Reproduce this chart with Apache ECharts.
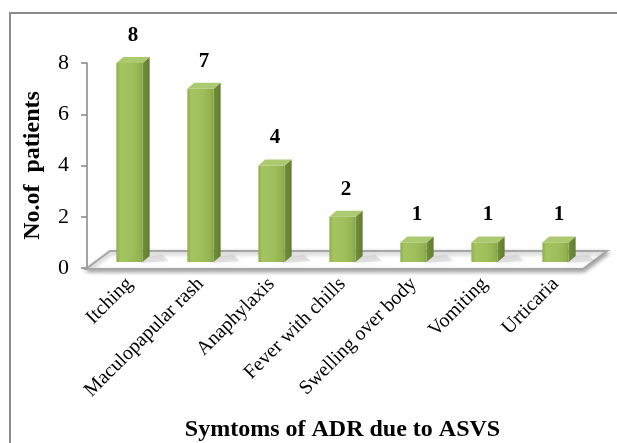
<!DOCTYPE html>
<html>
<head>
<meta charset="utf-8">
<script src="https://cdn.jsdelivr.net/npm/echarts@6/dist/echarts.min.js"></script>
<style>
html,body{margin:0;padding:0;background:#fff;}
#chart{width:617px;height:443px;}
</style>
</head>
<body>
<div id="chart"></div>
<script>
const categories = ['Itching', 'Maculopapular rash', 'Anaphylaxis', 'Fever with chills', 'Swelling over body', 'Vomiting', 'Urticaria'];
const patients = [8, 7, 4, 2, 1, 1, 1];
const yTickStep = 2;
const yMax = 8;
const xTitle = 'Symtoms of ADR due to ASVS';
const yTitle = 'No.of  patients';

const chart = echarts.init(document.getElementById('chart'), null, {renderer: 'canvas'});
const serif = "'Liberation Serif', 'Times New Roman', serif";

function renderFloor(params, api) {
  const band = api.size([1, 0])[0];
  const first = api.coord([0, 0]);
  const last = api.coord([categories.length - 1, 0]);
  const L = first[0] - band / 2, R = last[0] + band / 2, y0 = first[1] + 1;
  return {
    type: 'polygon',
    shape: {points: [[L - 8, y0], [R - 8, y0], [R + 16, y0 - 18], [L + 16, y0 - 18]]},
    style: {fill: '#ffffff', stroke: '#a6a6a6', lineWidth: 2,
      shadowBlur: 4, shadowColor: 'rgba(0,0,0,0.35)', shadowOffsetY: 2, shadowOffsetX: 1}
  };
}

function renderBar(params, api) {
  const i = api.value(0), v = api.value(1);
  const c = api.coord([i, v]);
  const c0 = api.coord([i, 0]);
  const band = api.size([1, 0])[0];
  const w = band * 0.37, dx = 7, dy = 6;
  const x = c[0] - w / 2;
  const base = c0[1] - 6;
  const top = c[1];
  return {
    type: 'group',
    children: [
      {type: 'polygon', shape: {points: [[x + w - 2, base + 1], [x + w + 26, base - 1], [x + w + 20, base - 7], [x + w + 4, base - 6]]},
        style: {fill: 'rgba(140,140,140,0.22)', shadowBlur: 5, shadowColor: 'rgba(0,0,0,0.25)'}},
      {type: 'polygon', shape: {points: [[x + w, top], [x + w + dx, top - dy], [x + w + dx, base - dy], [x + w, base]]},
        style: {fill: new echarts.graphic.LinearGradient(0, 0, 1, 0, [
          {offset: 0, color: '#718f39'}, {offset: 1, color: '#617c30'}])}},
      {type: 'rect', shape: {x: x, y: top, width: w, height: base - top},
        style: {fill: new echarts.graphic.LinearGradient(0, 0, 1, 0, [
          {offset: 0, color: '#8fae4e'}, {offset: 0.15, color: '#a4c460'},
          {offset: 0.6, color: '#9ebe5b'}, {offset: 0.9, color: '#92b150'}, {offset: 1, color: '#83a145'}])}},
      {type: 'polygon', shape: {points: [[x, top], [x + dx, top - dy], [x + w + dx, top - dy], [x + w, top]]},
        style: {fill: '#abc96e'}},
      {type: 'text', style: {text: String(v), x: x + w / 2 + dx / 2, y: top - dy - 11,
        align: 'center', verticalAlign: 'bottom', font: "bold 21px " + serif, fill: '#000'}}
    ]
  };
}

chart.setOption({
  animation: false,
  backgroundColor: '#ffffff',
  graphic: [{type: 'rect', shape: {x: 10, y: 13, width: 700, height: 500},
    style: {fill: 'none', stroke: '#8c8c8c', lineWidth: 2}, z: 0}],
  grid: {left: 94, right: 26, top: 63, bottom: 173, containLabel: false},
  xAxis: {
    type: 'category', data: categories,
    axisLine: {show: false}, axisTick: {show: false},
    axisLabel: {rotate: 45, margin: 13, color: '#000', fontFamily: serif, fontSize: 20, interval: 0},
    name: xTitle, nameLocation: 'middle', nameGap: 150,
    nameTextStyle: {color: '#000', fontFamily: serif, fontWeight: 'bold', fontSize: 24}
  },
  yAxis: {
    type: 'value', min: 0, max: yMax, interval: yTickStep, offset: 7,
    axisLine: {show: true, lineStyle: {color: '#868686', width: 1.5}},
    axisTick: {show: true, length: 6, lineStyle: {color: '#868686', width: 1.5}},
    axisLabel: {color: '#000', fontFamily: serif, fontSize: 22, margin: 18},
    splitLine: {show: false},
    name: yTitle, nameLocation: 'middle', nameGap: 42,
    nameTextStyle: {color: '#000', fontFamily: serif, fontWeight: 'bold', fontSize: 24}
  },
  series: [
    {type: 'custom', name: 'floor', renderItem: renderFloor, data: [[0, 0]], z: 1, silent: true, clip: false},
    {type: 'custom', name: 'patients', renderItem: renderBar, clip: false, z: 2,
      data: patients.map((v, i) => [i, v])}
  ]
});
</script>
</body>
</html>
